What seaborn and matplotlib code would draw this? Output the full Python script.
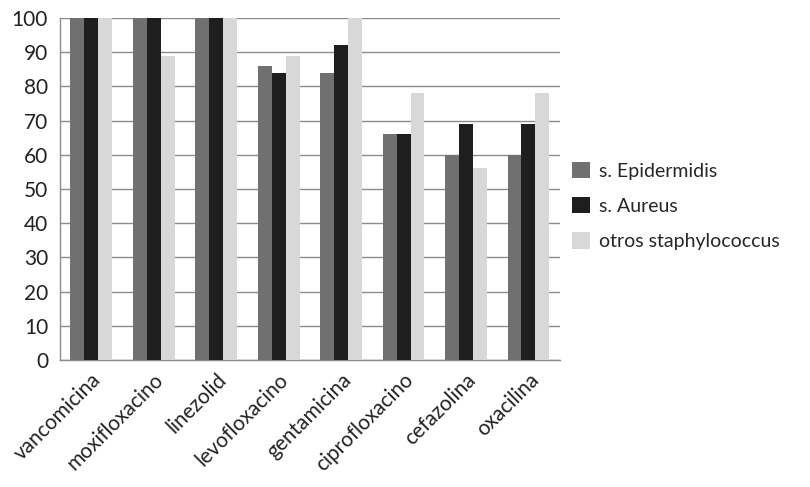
import pandas as pd
import numpy as np
import matplotlib
matplotlib.use("Agg")
import matplotlib.pyplot as plt
import seaborn as sns

# datos
antibioticos = ['vancomicina', 'moxifloxacino', 'linezolid', 'levofloxacino',
                'gentamicina', 'ciprofloxacino', 'cefazolina', 'oxacilina']
epidermidis = [100, 100, 100, 86, 84, 66, 60, 60]
aureus = [100, 100, 100, 84, 92, 66, 69, 69]
otros = [100, 89, 100, 89, 100, 78, 56, 78]
series = ['s. Epidermidis', 's. Aureus', 'otros staphylococcus']

df = pd.DataFrame({
    'antibiotico': antibioticos * 3,
    'valor': epidermidis + aureus + otros,
    'grupo': [series[0]] * 8 + [series[1]] * 8 + [series[2]] * 8,
})

sns.set_style('white')
plt.rcParams['font.family'] = ['Lato', 'DejaVu Sans']

fig = plt.figure(figsize=(8.1, 4.87), dpi=100)
ax = fig.add_axes([0.074, 0.261, 0.617, 0.702])

colores = ['#707070', '#1e1e1e', '#d8d8d8']
sns.barplot(data=df, x='antibiotico', y='valor', hue='grupo', palette=colores,
            width=0.67, ax=ax, saturation=1, edgecolor='none', zorder=3)

ax.set_ylim(0, 100)
ax.set_xlim(-0.5, 7.5)
ax.set_yticks(np.arange(0, 101, 10))
ax.yaxis.grid(True, color='#8c8c8c', linewidth=1, zorder=0)
ax.set_axisbelow(True)
ax.set_xlabel('')
ax.set_ylabel('')

# marcas del eje x entre categorias
ax.set_xticks(np.arange(8))
ax.set_xticklabels(antibioticos, rotation=45, ha='right', rotation_mode='anchor',
                   fontsize=15, color='#222222')
ax.set_xticks(np.arange(-0.5, 8, 1), minor=True)
ax.tick_params(axis='x', which='major', length=0, pad=7)
ax.tick_params(axis='x', which='minor', length=6, color='#8c8c8c', width=1)
ax.tick_params(axis='y', length=5, color='#8c8c8c', width=1, labelsize=15,
               labelcolor='#222222')

for s in ['top', 'right']:
    ax.spines[s].set_visible(False)
for s in ['left', 'bottom']:
    ax.spines[s].set_color('#8c8c8c')
    ax.spines[s].set_linewidth(1)

ax.legend(title=None, frameon=False, fontsize=14, loc='center left',
          bbox_to_anchor=(0.99, 0.45), handlelength=0.9, handleheight=0.9,
          labelspacing=0.9, handletextpad=0.5)

fig.savefig('out.png', dpi=100)
